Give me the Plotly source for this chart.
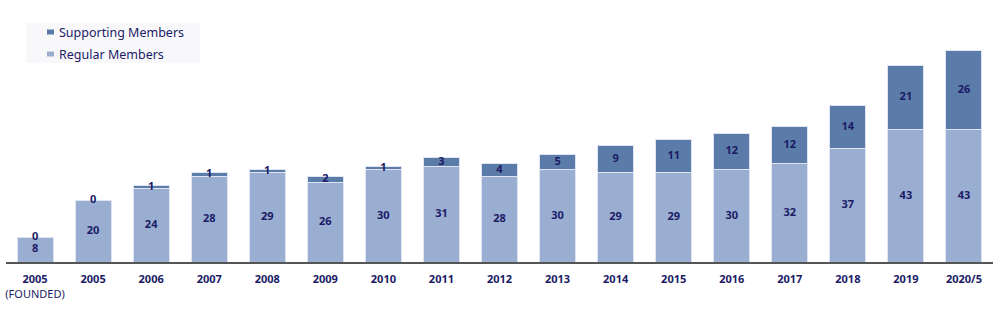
import plotly.graph_objects as go

# Membership counts by year
years = ["2005<br><span style='font-weight:normal'>(FOUNDED)</span>", "2005", "2006", "2007", "2008", "2009",
         "2010", "2011", "2012", "2013", "2014", "2015", "2016", "2017",
         "2018", "2019", "2020/5"]
regular = [8, 20, 24, 28, 29, 26, 30, 31, 28, 30, 29, 29, 30, 32, 37, 43, 43]
supporting = [0, 0, 1, 1, 1, 2, 1, 3, 4, 5, 9, 11, 12, 12, 14, 21, 26]

x = list(range(len(years)))

REG_COLOR = "#9aaed1"
SUP_COLOR = "#5b7ba8"
TEXT_COLOR = "#1b1b66"
FONT = "Noto Sans, Open Sans, sans-serif"

W, H = 1000, 334
M_L, M_R, M_T, M_B = 6, 7, 47, 72
PW, PH = W - M_L - M_R, H - M_T - M_B


def px(xp):
    return (xp - M_L) / PW


def py(yp):
    return (H - M_B - yp) / PH


fig = go.Figure()
fig.add_trace(go.Bar(
    x=x, y=regular, name="Regular Members",
    marker=dict(color=REG_COLOR, line=dict(color="#dfe5f0", width=1)),
    width=0.62, hoverinfo="skip", showlegend=False,
))
fig.add_trace(go.Bar(
    x=x, y=supporting, name="Supporting Members",
    marker=dict(color=SUP_COLOR, line=dict(color="#dfe5f0", width=1)),
    width=0.62, hoverinfo="skip", showlegend=False,
))

# Value labels centred on each segment
reg_pos = [r / 2 for r in regular]
sup_pos = [r + s / 2 for r, s in zip(regular, supporting)]
label_font = dict(family=FONT, size=11, color=TEXT_COLOR, weight="bold")
fig.add_trace(go.Scatter(
    x=x, y=reg_pos, text=[str(v) for v in regular], mode="text",
    textfont=label_font, showlegend=False, hoverinfo="skip",
))
fig.add_trace(go.Scatter(
    x=x, y=sup_pos, text=[str(v) for v in supporting], mode="text",
    textfont=label_font, showlegend=False, hoverinfo="skip",
))

# Legend panel: background box, colour keys and names
shapes = [
    dict(type="rect", xref="paper", yref="paper", layer="below",
         x0=px(26), x1=px(200), y0=py(63), y1=py(23),
         fillcolor="#f8f8fa", line=dict(width=0)),
]
legend_items = [("Supporting Members", SUP_COLOR, 32), ("Regular Members", REG_COLOR, 54)]
annotations = []
for name, color, yc in legend_items:
    shapes.append(dict(type="rect", xref="paper", yref="paper",
                       x0=px(47), x1=px(54), y0=py(yc + 2.5), y1=py(yc - 2.5),
                       fillcolor=color, line=dict(width=0)))
    annotations.append(dict(xref="paper", yref="paper", x=px(57), y=py(yc),
                            xanchor="left", yanchor="middle", showarrow=False,
                            text=name,
                            font=dict(family=FONT, size=12.5, color=TEXT_COLOR)))

fig.update_layout(
    barmode="stack",
    width=W, height=H,
    margin=dict(l=M_L, r=M_R, t=M_T, b=M_B),
    paper_bgcolor="white", plot_bgcolor="white",
    font=dict(family=FONT, color=TEXT_COLOR),
    showlegend=False,
    shapes=shapes,
    annotations=annotations,
    xaxis=dict(
        range=[-0.5, 16.5],
        tickmode="array", tickvals=x, ticktext=years,
        tickfont=dict(family=FONT, size=11, color=TEXT_COLOR, weight="bold"),
        showgrid=False, zeroline=False,
        showline=True, linecolor="#555555", linewidth=2,
        ticks="", ticklabelstandoff=6,
    ),
    yaxis=dict(
        range=[0, 70], visible=False, showgrid=False, zeroline=False,
    ),
    bargap=0.38,
)

fig.write_html("out.html")
